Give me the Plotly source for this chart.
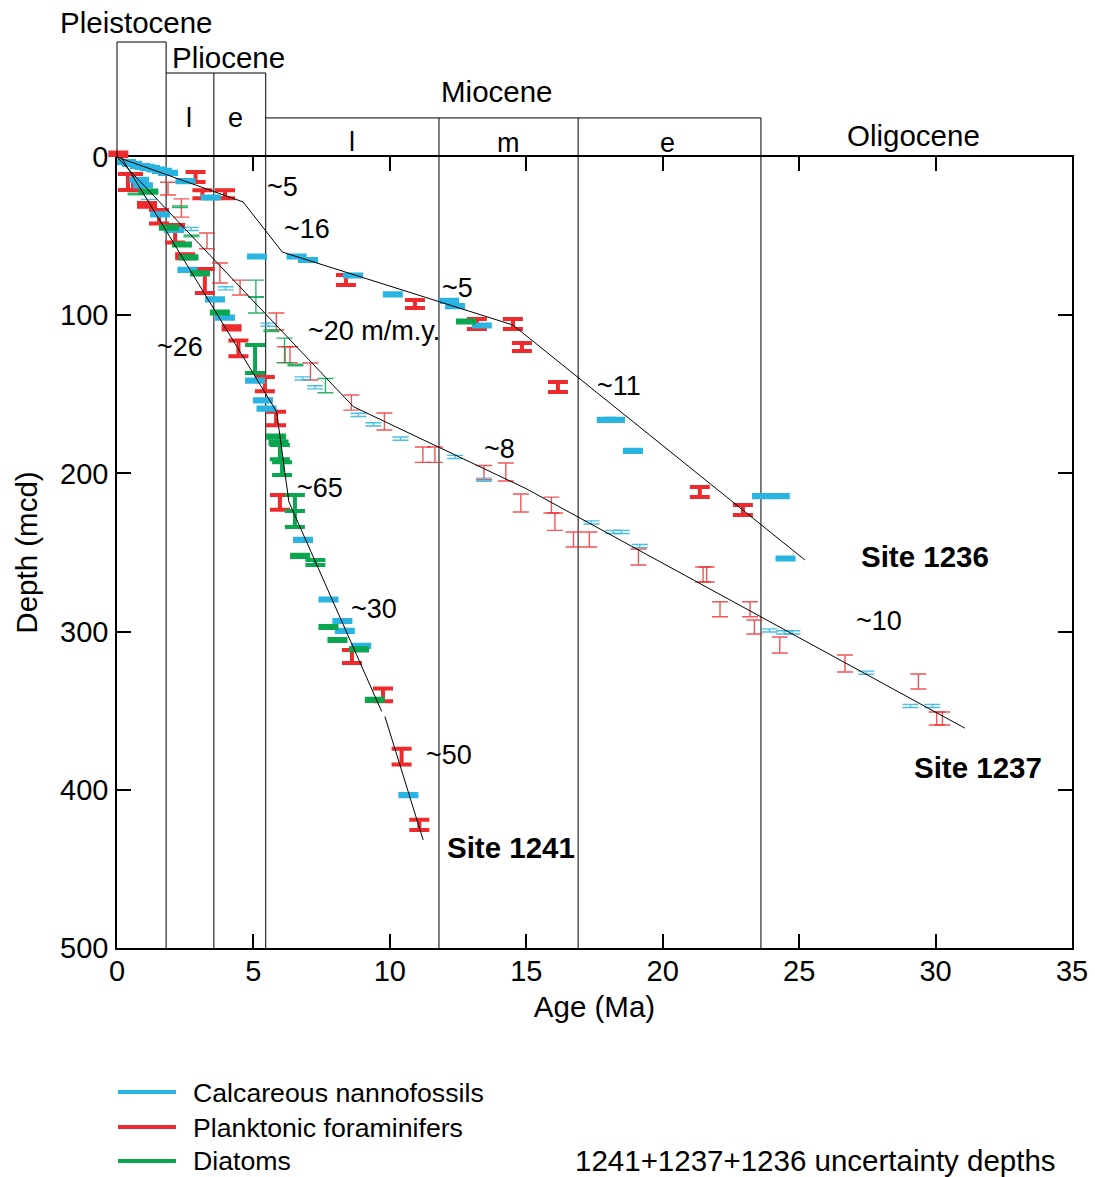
import plotly.graph_objects as go

# ---------------------------------------------------------------------------
# Biostratigraphic datums: age (Ma) and the depth interval (mcd) in which the
# event lies (top / bottom of the uncertainty interval).
# ---------------------------------------------------------------------------

# Site 1241
S1241_NANNO_AGE = [0.81, 0.95, 1.58, 2.09, 2.58, 3.59, 3.96, 5.06, 5.35, 5.48,
                   6.82, 7.75, 8.26, 8.35, 8.95, 10.68]
S1241_NANNO_TOP = [13.8, 17.3, 35.6, 45.3, 70.7, 89.3, 100.8, 140.6, 153.2, 158.3,
                   241.3, 279.0, 292.6, 298.9, 308.3, 402.6]
S1241_NANNO_BOT = [15.2, 18.7, 37.0, 46.7, 72.1, 90.7, 102.2, 142.0, 154.6, 159.7,
                   242.7, 280.4, 294.0, 300.3, 309.7, 404.0]

S1241_FORAM_AGE = [0.40, 0.59, 1.10, 1.54, 2.13, 2.50, 3.22, 4.20, 4.45, 5.42,
                   5.83, 5.97, 8.61, 9.75, 10.43, 11.08]
S1241_FORAM_TOP = [10.7, 10.7, 29.0, 33.5, 43.0, 61.5, 70.8, 107.0, 116.0, 139.0,
                   161.0, 213.7, 311.6, 336.0, 374.0, 419.0]
S1241_FORAM_BOT = [20.9, 20.9, 31.5, 42.0, 54.0, 64.0, 86.0, 109.0, 126.0, 148.0,
                   169.5, 223.0, 319.8, 344.0, 384.0, 425.4]

S1241_DIATOM_AGE = [1.15, 1.90, 2.38, 2.62, 3.04, 3.77, 5.06, 5.83, 5.92, 5.97,
                    6.05, 6.52, 6.52, 6.71, 7.27, 7.75, 8.08, 8.87, 9.45]
S1241_DIATOM_TOP = [21.2, 43.9, 54.6, 62.8, 72.9, 97.6, 118.8, 176.0, 179.8, 182.0,
                    193.0, 213.7, 223.8, 251.5, 254.7, 296.4, 304.6, 310.6, 342.5]
S1241_DIATOM_BOT = [22.6, 45.3, 56.0, 64.2, 74.3, 99.0, 136.5, 177.4, 181.2, 191.0,
                    201.0, 223.8, 233.9, 252.9, 257.9, 297.8, 306.0, 312.0, 343.9]

# Site 1236
S1236_NANNO_AGE = [0.33, 0.55, 0.84, 1.02, 1.21, 1.45, 1.65, 1.87, 2.51, 3.44,
                   5.13, 6.58, 7.00, 8.65, 10.11, 12.17, 12.39, 13.37, 17.95,
                   18.25, 18.91, 23.64, 24.29, 24.50]
S1236_NANNO_TOP = [2.5, 3.6, 5.0, 5.6, 6.3, 7.2, 8.1, 9.4, 14.5, 24.9,
                   62.2, 62.2, 64.4, 74.2, 86.2, 90.3, 93.5, 105.8, 165.5,
                   165.5, 185.1, 213.6, 213.6, 253.1]
S1236_NANNO_BOT = [3.9, 5.0, 6.4, 7.0, 7.7, 8.6, 9.5, 10.8, 15.9, 26.3,
                   63.6, 63.6, 65.8, 75.6, 87.6, 91.7, 94.9, 107.2, 166.9,
                   166.9, 186.5, 215.0, 215.0, 254.5]

S1236_FORAM_AGE = [0.05, 2.88, 3.13, 3.96, 8.39, 10.92, 13.19, 14.51, 14.84, 16.16,
                   21.36, 22.94]
S1236_FORAM_TOP = [-2.8, 9.5, 21.0, 21.0, 74.6, 90.4, 102.4, 102.4, 117.6, 142.2,
                   208.6, 220.0]
S1236_FORAM_BOT = [-0.4, 15.8, 26.0, 26.0, 80.9, 95.4, 108.7, 108.7, 122.6, 148.5,
                   214.9, 226.3]

S1236_DIATOM_AGE = [12.79]
S1236_DIATOM_TOP = [103.4]
S1236_DIATOM_BOT = [104.6]

# Site 1237
S1237_NANNO_AGE = [1.17, 2.71, 3.98, 5.55, 6.80, 7.26, 8.85, 9.40, 10.39, 12.39,
                   13.45, 17.39, 18.18, 18.50, 19.16, 23.91, 24.45, 24.75, 27.46,
                   29.08, 29.88]
S1237_NANNO_TOP = [26.8, 44.5, 82.0, 105.0, 139.0, 144.6, 162.0, 168.0, 177.0, 188.6,
                   203.0, 230.0, 236.0, 236.0, 244.9, 298.3, 299.5, 299.5, 325.0,
                   346.0, 346.0]
S1237_NANNO_BOT = [28.8, 46.5, 84.0, 107.0, 141.0, 146.6, 164.0, 170.0, 179.0, 190.6,
                   205.0, 232.0, 238.0, 238.0, 246.9, 300.3, 301.5, 301.5, 327.0,
                   348.0, 348.0]

S1237_FORAM_AGE = [1.87, 2.36, 3.30, 3.77, 4.51, 5.84, 6.16, 6.34, 7.09, 8.59,
                   9.80, 11.21, 11.65, 13.45, 14.25, 14.80, 15.92, 16.05, 16.73,
                   17.31, 19.11, 21.48, 21.61, 22.10, 23.20, 23.36, 24.29, 26.68,
                   29.37, 30.04, 30.25]
S1237_FORAM_TOP = [16.0, 26.5, 48.0, 67.0, 77.8, 98.6, 119.9, 119.9, 130.2, 150.4,
                   161.8, 183.3, 183.3, 195.0, 193.4, 213.0, 215.0, 225.0, 237.0,
                   237.0, 247.8, 259.2, 259.2, 281.1, 281.1, 292.7, 303.4, 314.8,
                   326.8, 350.8, 350.8]
S1237_FORAM_BOT = [24.0, 38.0, 58.0, 79.6, 87.2, 109.4, 130.0, 130.0, 141.0, 160.0,
                   172.6, 193.0, 193.0, 204.0, 204.8, 224.4, 225.0, 236.0, 246.5,
                   246.5, 257.9, 268.6, 268.6, 290.6, 290.6, 301.5, 313.5, 325.5,
                   336.3, 359.0, 359.0]

S1237_DIATOM_AGE = [0.68, 2.31, 2.73, 5.09, 5.09, 5.66, 6.14, 6.54, 7.64]
S1237_DIATOM_TOP = [22.9, 31.0, 49.5, 77.8, 88.5, 109.4, 114.5, 131.0, 140.0]
S1237_DIATOM_BOT = [23.9, 32.0, 50.5, 88.5, 98.6, 110.4, 130.0, 132.0, 149.0]

# Age-depth models (sedimentation-rate segments)
S1241_MODEL_AGE = [0.15, 5.85, 6.30, 9.70]
S1241_MODEL_DEPTH = [0.0, 161.0, 218.0, 350.5]
S1241_MODEL2_AGE = [9.82, 11.22]
S1241_MODEL2_DEPTH = [353.7, 431.7]
S1236_MODEL_AGE = [0.0, 4.62, 6.06, 14.51, 25.21]
S1236_MODEL_DEPTH = [0.0, 28.4, 60.1, 106.2, 254.7]
S1237_MODEL_AGE = [0.0, 8.66, 15.0, 31.07]
S1237_MODEL_DEPTH = [0.0, 157.8, 209.7, 361.0]

# Epoch / subepoch boundaries (Ma) and the header level they reach
EPOCH_BOUNDARY_AGE = [1.8, 3.55, 5.45, 11.8, 16.9, 23.6]
PLEISTOCENE_TOP = -72.7
PLIOCENE_TOP = -53.1
MIOCENE_TOP = -24.7
EPOCH_BOUNDARY_TOP = [PLEISTOCENE_TOP, PLIOCENE_TOP, PLIOCENE_TOP,
                      MIOCENE_TOP, MIOCENE_TOP, MIOCENE_TOP]

X_TICKS = [0, 5, 10, 15, 20, 25, 30, 35]
Y_TICKS = [0, 100, 200, 300, 400, 500]

# ---------------------------------------------------------------------------
BLUE = "#29b4e2"
RED = "#ee2a2c"
GREEN = "#0aa650"
BLUE_THIN = "rgba(41,180,226,0.85)"
RED_THIN = "rgba(238,42,44,0.8)"
GREEN_THIN = "rgba(10,166,80,0.85)"
FONT = "Liberation Sans, Arial, Helvetica, sans-serif"

W, H = 1095, 1177
ML, MR, MT, MB = 100, 23, 10, 229
AXIS_LEFT = 117                     # page x of age 0
PLOT_W = W - ML - MR
PLOT_H = H - MT - MB
MAIN_H = 791                        # px used by the depth axis (0-500 mcd)
MAIN_TOP = MAIN_H / PLOT_H          # top of main domain (paper fraction)
MAIN_LEFT = (AXIS_LEFT - ML) / PLOT_W
PX_PER_MA = (W - MR - AXIS_LEFT) / 35.0
HEADER_X0 = -(AXIS_LEFT - ML) / PX_PER_MA
HEADER_RANGE_TOP = -(PLOT_H - MAIN_H) * 500.0 / MAIN_H


def depth_marks(ages, tops, bots, color, thick, xaxis="x", yaxis="y"):
    """Depth-uncertainty bars: a cap at the top and bottom of each interval."""
    mids = [(t + b) / 2 for t, b in zip(tops, bots)]
    half = [(b - t) / 2 for t, b in zip(tops, bots)]
    return go.Scatter(
        x=ages, y=mids, mode="markers", xaxis=xaxis, yaxis=yaxis,
        marker=dict(size=1, color="rgba(0,0,0,0)"),
        error_y=dict(type="data", array=half, symmetric=True, color=color,
                     thickness=4 if thick else 1.4, width=10 if thick else 8),
        showlegend=False, hoverinfo="skip",
    )


fig = go.Figure()

# Site 1237 (thin marks)
fig.add_trace(depth_marks(S1237_FORAM_AGE, S1237_FORAM_TOP, S1237_FORAM_BOT, RED_THIN, False))
fig.add_trace(depth_marks(S1237_NANNO_AGE, S1237_NANNO_TOP, S1237_NANNO_BOT, BLUE_THIN, False))
fig.add_trace(depth_marks(S1237_DIATOM_AGE, S1237_DIATOM_TOP, S1237_DIATOM_BOT, GREEN_THIN, False))

# Sites 1236 and 1241 (heavy marks)
fig.add_trace(depth_marks(S1236_FORAM_AGE, S1236_FORAM_TOP, S1236_FORAM_BOT, RED, True))
fig.add_trace(depth_marks(S1241_FORAM_AGE, S1241_FORAM_TOP, S1241_FORAM_BOT, RED, True))
fig.add_trace(depth_marks(S1236_NANNO_AGE, S1236_NANNO_TOP, S1236_NANNO_BOT, BLUE, True))
fig.add_trace(depth_marks(S1241_NANNO_AGE, S1241_NANNO_TOP, S1241_NANNO_BOT, BLUE, True))
fig.add_trace(depth_marks(S1236_DIATOM_AGE, S1236_DIATOM_TOP, S1236_DIATOM_BOT, GREEN, True))
fig.add_trace(depth_marks(S1241_DIATOM_AGE, S1241_DIATOM_TOP, S1241_DIATOM_BOT, GREEN, True))

# the part of the mudline datum that sits above 0 mcd is drawn on the header axes
fig.add_trace(depth_marks(S1236_FORAM_AGE, S1236_FORAM_TOP, S1236_FORAM_BOT, RED, True,
                          "x2", "y2"))

# Age-depth models
for ages, depths in [(S1241_MODEL_AGE, S1241_MODEL_DEPTH),
                     (S1241_MODEL2_AGE, S1241_MODEL2_DEPTH),
                     (S1236_MODEL_AGE, S1236_MODEL_DEPTH),
                     (S1237_MODEL_AGE, S1237_MODEL_DEPTH)]:
    fig.add_trace(go.Scatter(x=ages, y=depths, mode="lines",
                             line=dict(color="black", width=1),
                             showlegend=False, hoverinfo="skip"))

shapes = []
line_style = dict(color="black", width=1)
# boundaries through the depth plot
for age in EPOCH_BOUNDARY_AGE:
    shapes.append(dict(type="line", xref="x", yref="y", x0=age, x1=age,
                       y0=0, y1=500, line=line_style, layer="below"))
# boundaries inside the header boxes
for age, top in zip(EPOCH_BOUNDARY_AGE, EPOCH_BOUNDARY_TOP):
    shapes.append(dict(type="line", xref="x2", yref="y2", x0=age, x1=age,
                       y0=top, y1=0, line=line_style))
# Pleistocene box: left edge and lid
shapes.append(dict(type="line", xref="x2", yref="y2", x0=0, x1=0,
                   y0=PLEISTOCENE_TOP, y1=0, line=line_style))
shapes.append(dict(type="line", xref="x2", yref="y2", x0=0, x1=EPOCH_BOUNDARY_AGE[0],
                   y0=PLEISTOCENE_TOP, y1=PLEISTOCENE_TOP, line=line_style))
# Pliocene lid
shapes.append(dict(type="line", xref="x2", yref="y2", x0=EPOCH_BOUNDARY_AGE[0],
                   x1=EPOCH_BOUNDARY_AGE[2], y0=PLIOCENE_TOP, y1=PLIOCENE_TOP,
                   line=line_style))
# Miocene lid
shapes.append(dict(type="line", xref="x2", yref="y2", x0=EPOCH_BOUNDARY_AGE[2],
                   x1=EPOCH_BOUNDARY_AGE[5], y0=MIOCENE_TOP, y1=MIOCENE_TOP,
                   line=line_style))


def page_x(px):
    return (px - ML) / PLOT_W


def page_y(py):
    return (H - MB - py) / PLOT_H


# key for the three fossil groups, under the plot
LEGEND_GROUPS = ["Calcareous nannofossils", "Planktonic foraminifers", "Diatoms"]
LEGEND_COLORS = [BLUE, RED, GREEN]
LEGEND_ROWS = [1092, 1127, 1161]
LEGEND_TEXT_ROWS = [1093, 1128, 1161]
for color, row in zip(LEGEND_COLORS, LEGEND_ROWS):
    shapes.append(dict(type="line", xref="paper", yref="paper",
                       x0=page_x(118), x1=page_x(176), y0=page_y(row), y1=page_y(row),
                       line=dict(color=color, width=4)))

annotations = []


def label(text, x, y, size, xref="x", yref="y", bold=False, xanchor="center"):
    annotations.append(dict(
        text=f"<b>{text}</b>" if bold else text, x=x, y=y, xref=xref, yref=yref,
        showarrow=False, xanchor=xanchor, yanchor="middle",
        font=dict(family=FONT, size=size, color="black")))


# header labels
label("Pleistocene", 0.73, -85.3, 29.5, "x2", "y2")
label("Pliocene", 4.10, -62.6, 29.5, "x2", "y2")
label("l", 2.64, -24.5, 27, "x2", "y2")
label("e", 4.36, -24.5, 27, "x2", "y2")
label("Miocene", 13.92, -41.1, 29.5, "x2", "y2")
label("l", 8.61, -9.3, 27, "x2", "y2")
label("m", 14.36, -8.8, 27, "x2", "y2")
label("e", 20.19, -8.8, 27, "x2", "y2")
label("Oligocene", 29.2, -13.9, 29.5, "x2", "y2")

# sedimentation rates (m/m.y.)
label("~5", 6.08, 19.0, 27)
label("~16", 6.96, 45.5, 27)
label("~5", 12.49, 82.8, 27)
label("~20 m/m.y.", 9.42, 110.0, 27)
label("~26", 2.31, 120.1, 27)
label("~11", 18.39, 144.8, 27)
label("~8", 14.03, 184.6, 27)
label("~65", 7.44, 209.2, 27)
label("~30", 9.42, 285.7, 27)
label("~10", 27.92, 293.3, 27)
label("~50", 12.17, 378.0, 27)

# site names
label("Site 1236", 29.61, 252.8, 29.5, bold=True)
label("Site 1237", 31.55, 386.2, 29.5, bold=True)
label("Site 1241", 14.44, 436.2, 29.5, bold=True)

# key text
for text, row in zip(LEGEND_GROUPS, LEGEND_TEXT_ROWS):
    label(text, page_x(191), page_y(row), 26.7, "paper", "paper", xanchor="left")
label("1241+1237+1236 uncertainty depths", page_x(573), page_y(1160), 29.5,
      "paper", "paper", xanchor="left")

axis_common = dict(
    showline=True, linecolor="black", linewidth=1.6, mirror="ticks",
    ticks="inside", ticklen=14, tickwidth=1.6, tickcolor="black",
    showgrid=False, zeroline=False,
    tickfont=dict(family=FONT, size=29, color="black"),
)

fig.update_layout(
    width=W, height=H,
    margin=dict(l=ML, r=MR, t=MT, b=MB),
    paper_bgcolor="white", plot_bgcolor="white",
    showlegend=False,
    xaxis=dict(range=[0, 35], tickvals=X_TICKS, domain=[MAIN_LEFT, 1], anchor="y",
               title=dict(text="Age (Ma)", standoff=11,
                          font=dict(family=FONT, size=29.5, color="black")),
               ticklabelstandoff=-4, automargin=False, **axis_common),
    yaxis=dict(range=[500, 0], tickvals=Y_TICKS, domain=[0, MAIN_TOP], anchor="x",
               title=dict(text="Depth (mcd)", standoff=14,
                          font=dict(family=FONT, size=29.5, color="black")),
               ticklabelstandoff=1, automargin=False, **axis_common),
    xaxis2=dict(range=[HEADER_X0, 35], domain=[0, 1], anchor="y2", visible=False),
    yaxis2=dict(range=[0, HEADER_RANGE_TOP], domain=[MAIN_TOP, 1], anchor="x2",
                visible=False),
    shapes=shapes,
    annotations=annotations,
)

fig.write_html("out.html")
